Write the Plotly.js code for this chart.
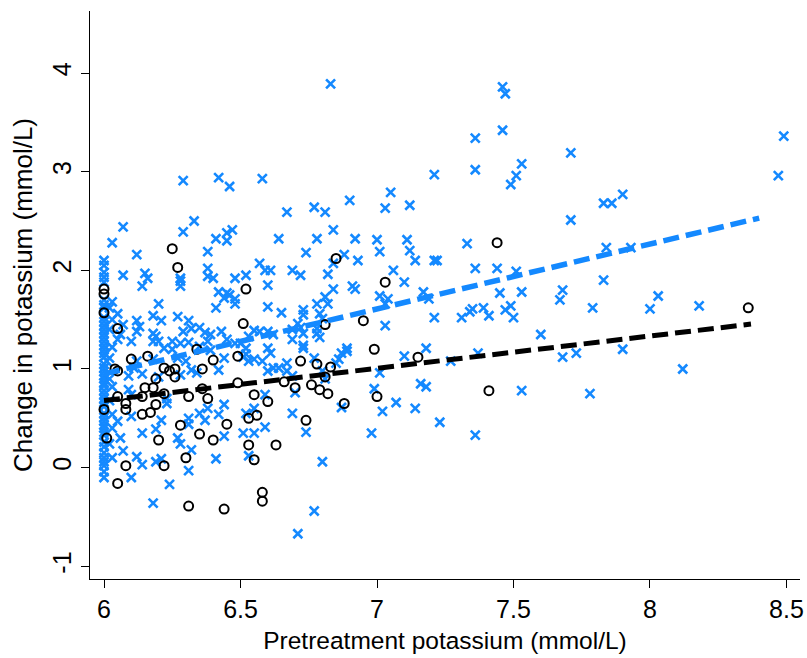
<!DOCTYPE html>
<html>
<head>
<meta charset="utf-8">
<script src="https://cdn.plot.ly/plotly-3.0.1.min.js"></script>
<style>html,body{margin:0;padding:0;background:#fff;}#chart{width:807px;height:658px;}</style>
</head>
<body>
<div id="chart"></div>
<script>
// ---- data ----
const blueX = [
6.00,6.00,6.00,6.00,6.00,6.00,6.00,6.00,6.00,6.00,6.00,6.00,6.00,6.00,6.00,6.00,6.00,6.00,6.00,6.00,6.00,6.00,6.00,6.00,6.00,6.00,6.00,6.00,6.00,6.00,6.00,6.00,6.00,6.00,6.00,6.00,6.00,6.00,6.00,6.00,6.00,6.00,6.00,6.00,6.00,6.00,
6.02,6.03,6.02,6.03,6.02,6.03,6.02,6.03,6.02,
6.29,6.42,6.46,6.07,6.33,6.29,6.45,6.47,6.45,6.41,6.03,6.12,6.38,6.07,6.15,6.16,6.38,6.38,6.40,6.28,6.48,6.52,
6.14,6.28,6.28,6.42,6.45,6.46,6.48,6.44,6.48,6.03,6.20,6.41,6.05,6.18,6.21,6.27,6.31,6.12,6.13,6.07,6.12,6.18,6.19,6.29,6.32,6.35,6.37,6.39,6.43,6.45,6.48,6.06,6.05,6.10,6.18,6.20,6.25,6.28,6.31,6.38,6.22,6.25,6.35,6.39,6.02,6.01,6.12,6.18,6.27,6.30,6.44,6.11,6.32,6.42,6.34,
6.09,6.14,6.20,6.28,6.10,6.09,6.23,6.23,6.03,6.05,6.10,6.21,6.31,6.31,6.35,6.38,6.37,6.42,6.44,6.14,6.19,6.06,6.27,6.28,6.32,6.44,6.07,6.03,6.12,6.14,6.19,6.21,6.41,6.31,6.10,6.24,6.18,
6.58,6.67,6.77,6.81,6.90,7.03,6.64,6.78,6.84,6.92,7.00,7.01,6.74,6.88,6.93,6.84,6.57,6.59,6.61,6.69,6.72,6.82,
6.60,6.91,6.92,6.84,6.81,6.82,6.78,7.01,7.04,7.03,6.60,6.65,6.73,6.73,6.79,6.80,7.03,6.71,6.72,6.69,6.73,6.78,6.78,6.79,6.55,6.57,6.60,6.62,6.53,6.69,6.50,6.73,6.60,6.52,6.89,6.89,6.87,6.73,6.61,6.52,6.51,6.55,6.53,6.58,6.67,6.77,6.86,6.85,6.64,6.62,6.60,6.67,6.80,7.01,
6.69,6.81,6.70,6.59,6.55,6.87,6.99,7.02,6.69,6.52,6.74,6.59,6.55,6.51,6.98,6.53,6.80,6.77,6.71,
6.83,7.46,7.47,7.46,7.36,7.53,7.36,7.51,7.49,7.21,7.05,7.12,7.11,7.12,7.14,7.21,7.22,7.33,7.06,7.10,7.36,7.44,7.51,7.17,7.45,7.53,
7.19,7.21,7.31,7.34,7.35,7.39,7.41,7.47,7.49,7.50,7.60,7.10,7.18,7.27,7.37,7.16,7.18,7.53,7.07,7.14,7.23,7.36,
7.71,8.49,8.47,7.83,7.86,7.90,7.71,7.84,7.93,7.83,7.68,7.67,7.79,8.03,8.00,8.18,7.68,7.73,7.90,8.12,7.78
];
const blueY = [
2.10,2.05,1.98,1.93,1.88,1.70,1.65,1.62,1.52,1.48,1.44,1.40,1.36,1.32,1.28,1.24,1.20,1.16,1.12,1.05,1.01,0.97,0.93,0.90,0.86,0.83,0.78,0.74,0.70,0.66,0.62,0.55,0.51,0.47,0.43,0.40,0.36,0.33,0.26,0.21,0.15,0.10,0.06,0.02,-0.04,-0.10,
1.62,1.50,1.40,1.22,0.90,0.82,0.68,0.40,0.24,
2.91,2.94,2.85,2.44,2.50,2.39,2.38,2.41,2.30,2.32,2.28,2.16,2.19,1.95,1.97,1.92,2.02,1.94,1.92,1.92,1.92,1.95,
1.84,1.89,1.84,1.78,1.77,1.75,1.71,1.72,1.66,1.68,1.66,1.62,1.56,1.54,1.49,1.53,1.49,1.49,1.43,1.45,1.38,1.36,1.33,1.38,1.41,1.42,1.37,1.35,1.38,1.30,1.26,1.35,1.30,1.28,1.28,1.28,1.28,1.26,1.27,1.28,1.21,1.20,1.23,1.19,1.11,1.08,1.08,1.10,1.11,1.08,1.11,1.01,0.99,0.99,0.96,
0.93,0.95,0.92,0.94,0.74,0.79,0.65,0.70,0.54,0.47,0.52,0.48,0.50,0.44,0.55,0.60,0.48,0.54,0.64,0.35,0.39,0.30,0.30,0.24,0.18,0.32,0.17,0.10,0.11,0.03,0.06,0.09,0.09,-0.03,-0.10,-0.17,-0.36,
2.93,2.59,2.64,2.59,2.71,2.63,2.32,2.32,2.41,2.32,2.31,2.19,2.18,2.16,2.10,2.07,2.07,2.00,2.00,2.00,1.95,1.96,
1.85,1.84,1.81,1.81,1.73,1.66,1.66,1.74,1.71,1.66,1.63,1.57,1.60,1.55,1.56,1.51,1.44,1.46,1.42,1.40,1.36,1.41,1.36,1.32,1.39,1.38,1.38,1.35,1.33,1.30,1.26,1.24,1.21,1.21,1.21,1.18,1.16,1.21,1.16,1.15,1.12,1.10,1.08,1.08,1.06,1.11,1.10,1.06,1.01,1.01,0.98,0.98,0.98,0.96,
0.93,0.90,0.76,0.74,0.60,0.61,0.80,0.57,0.55,0.55,0.36,0.41,0.35,0.35,0.35,0.12,0.06,-0.44,-0.67,
3.89,3.86,3.79,3.42,3.34,3.08,3.02,2.96,2.87,2.97,2.79,2.66,2.31,2.20,2.10,2.10,2.10,2.27,2.00,1.88,2.02,2.02,1.99,1.78,1.77,1.78,
1.71,1.52,1.52,1.58,1.61,1.62,1.54,1.60,1.64,1.52,1.35,1.13,1.21,1.08,1.16,0.85,0.82,0.78,0.66,0.60,0.46,0.33,
3.19,3.36,2.96,2.68,2.68,2.77,2.51,2.23,2.23,1.90,1.80,1.70,1.62,1.74,1.61,1.64,1.12,1.16,1.20,1.00,0.75
];
const blackX = [
6.00,6.00,6.00,6.00,6.01,6.52,6.25,6.27,6.05,6.10,6.16,6.40,6.49,6.34,6.04,6.05,6.22,6.24,6.26,6.36,
6.19,6.26,6.49,6.15,6.18,6.05,6.14,6.22,6.31,6.38,6.36,6.08,6.08,6.19,6.14,6.17,6.28,6.45,6.53,6.20,
6.35,6.40,6.53,6.30,6.08,6.22,6.05,6.31,6.44,6.51,6.81,6.95,7.03,6.85,6.99,6.72,6.78,6.83,6.66,6.81,
6.76,6.79,6.70,6.82,6.55,6.60,6.88,7.00,6.56,6.74,6.63,6.55,6.58,6.58,7.44,7.15,7.41,8.36
];
const blackY = [
1.81,1.76,1.57,0.59,0.30,1.81,2.22,2.03,1.41,1.10,1.13,1.09,1.13,1.20,1.00,0.98,1.01,0.98,1.00,1.00,
0.90,0.92,0.86,0.81,0.81,0.72,0.72,0.75,0.72,0.70,0.80,0.65,0.59,0.64,0.54,0.56,0.43,0.44,0.50,0.28,
0.34,0.28,0.23,0.10,0.02,0.02,-0.16,-0.39,-0.42,1.46,1.45,1.49,1.88,2.12,1.20,1.08,1.05,1.02,0.87,0.92,
0.84,0.79,0.81,0.75,0.74,0.67,0.65,0.72,0.53,0.48,0.23,0.08,-0.25,-0.34,2.28,1.12,0.78,1.62
];
// fitted-line end points
const fitBlueX = [6.00, 8.40];
const fitBlueY = [0.95, 2.53];
const fitBlackX = [6.00, 8.37];
const fitBlackY = [0.68, 1.455];
// ticks
const xTickVals = [6, 6.5, 7, 7.5, 8, 8.5];
const xTickText = ["6", "6.5", "7", "7.5", "8", "8.5"];
const yTickVals = [-1, 0, 1, 2, 3, 4];
const yTickText = ["-1", "0", "1", "2", "3", "4"];

const BLUE = "rgb(20,137,255)";
const FONT = "Liberation Sans, Arial, sans-serif";

const traces = [
  {x: blueX, y: blueY, type: "scatter", mode: "markers",
   marker: {symbol: "x-thin", size: 9, color: BLUE, line: {color: BLUE, width: 2.6}},
   hoverinfo: "skip", showlegend: false},
  {x: blackX, y: blackY, type: "scatter", mode: "markers",
   marker: {symbol: "circle-open", size: 9, color: "#000", line: {color: "#000", width: 2}},
   hoverinfo: "skip", showlegend: false},
  {x: fitBlueX, y: fitBlueY, type: "scatter", mode: "lines",
   line: {color: BLUE, width: 5.5, dash: "16px,7px"}, hoverinfo: "skip", showlegend: false},
  {x: fitBlackX, y: fitBlackY, type: "scatter", mode: "lines",
   line: {color: "#000", width: 5, dash: "16px,7px"}, hoverinfo: "skip", showlegend: false}
];

const layout = {
  width: 807, height: 658,
  margin: {l: 90, r: 7, t: 11, b: 79},
  paper_bgcolor: "#fff", plot_bgcolor: "#fff",
  font: {family: FONT, color: "#000"},
  showlegend: false,
  xaxis: {
    range: [5.9487, 8.5495], tickvals: xTickVals, ticktext: xTickText,
    showline: true, linecolor: "#000", linewidth: 1, mirror: false,
    ticks: "outside", ticklen: 8, tickwidth: 1, tickcolor: "#000",
    showgrid: false, zeroline: false,
    tickfont: {family: FONT, size: 25, color: "#000"},
    title: {text: "Pretreatment potassium (mmol/L)", font: {family: FONT, size: 24.5, color: "#000"}, standoff: 9}
  },
  yaxis: {
    range: [-1.129, 4.629], tickvals: yTickVals, ticktext: yTickText, tickangle: -90,
    showline: true, linecolor: "#000", linewidth: 1, mirror: false,
    ticks: "outside", ticklen: 8, tickwidth: 1, tickcolor: "#000",
    showgrid: false, zeroline: false,
    tickfont: {family: FONT, size: 25, color: "#000"},
    title: {text: "Change in potassium (mmol/L)", font: {family: FONT, size: 26, color: "#000"}, standoff: 7}
  }
};

Plotly.newPlot("chart", traces, layout, {staticPlot: true, displayModeBar: false});
</script>
</body>
</html>
